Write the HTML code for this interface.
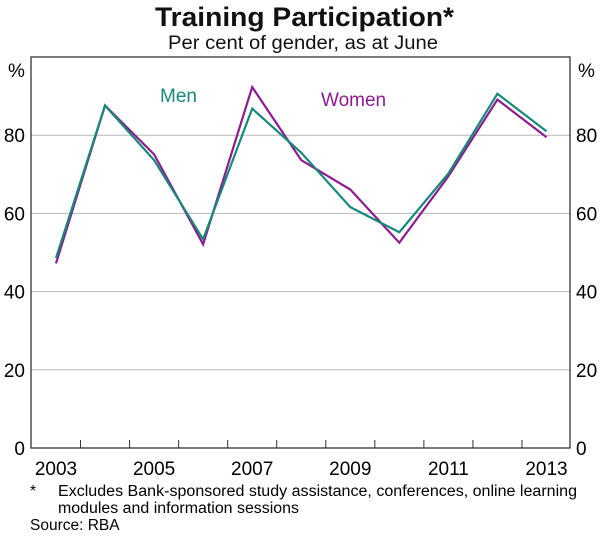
<!DOCTYPE html>
<html><head><meta charset="utf-8"><style>
body{margin:0;background:#fff;font-family:"Liberation Sans",Arial,sans-serif;}
</style></head><body>
<svg width="600" height="533" viewBox="0 0 600 533" xmlns="http://www.w3.org/2000/svg" font-family="Liberation Sans, Arial, sans-serif">
<text x="155" y="26" font-size="27" font-weight="bold" textLength="299" lengthAdjust="spacingAndGlyphs" fill="#111">Training Participation*</text>
<text x="168" y="49" font-size="19" textLength="270" lengthAdjust="spacingAndGlyphs" fill="#111">Per cent of gender, as at June</text>
<g id="grid"></g>
<g id="axes"></g>
<g id="series"></g>
<text x="160" y="102" font-size="19" fill="#16897a">Men</text>
<text x="321" y="106" font-size="19" fill="#8c1d8e">Women</text>
<text x="30" y="496" font-size="15.5">*</text>
<text x="58" y="496" font-size="15.5" textLength="519" lengthAdjust="spacingAndGlyphs">Excludes Bank-sponsored study assistance, conferences, online learning</text>
<text x="58" y="513" font-size="15.5" textLength="241" lengthAdjust="spacingAndGlyphs">modules and information sessions</text>
<text x="30" y="530" font-size="15.5">Source: RBA</text>
</svg>
<script>
const years=[2003,2004,2005,2006,2007,2008,2009,2010,2011,2012,2013];
const men=[48.6,87.6,73.6,53.4,86.8,75.5,61.6,55.2,70.2,90.6,81];
const women=[47.2,87.6,75.1,52.1,92.3,73.6,66.1,52.5,69.5,89.1,79.5];
const yTicks=[0,20,40,60,80];
const xLabels=[2003,2005,2007,2009,2011,2013];
const NS="http://www.w3.org/2000/svg";
const L=31,R=570,T=57,B=448;
const x0=56,step=49.05;
function xs(yr){return x0+(yr-2003)*step;}
function ys(v){return B-(v/100)*(B-T);}
function mk(tag,attrs,parent,text){const e=document.createElementNS(NS,tag);for(const k in attrs)e.setAttribute(k,attrs[k]);if(text!==undefined)e.textContent=text;parent.appendChild(e);return e;}
const grid=document.getElementById('grid'),axes=document.getElementById('axes'),ser=document.getElementById('series');
yTicks.forEach(v=>{
 if(v>0){const g=mk('line',{x1:L,x2:R,y1:ys(v),y2:ys(v),stroke:'#b8b8b8','stroke-width':1},grid);
 
 }
 const t1=mk('text',{x:L-6,y:ys(v)+7,'text-anchor':'end','font-size':19},axes,v);
 
 
 const t2=mk('text',{x:R+6,y:ys(v)+7,'font-size':19},axes,v);
 
 
});
const p1=mk('text',{x:8,y:77,'font-size':19},axes,'%');


const p2=mk('text',{x:578,y:77,'font-size':19},axes,'%');


const fr=mk('rect',{x:L,y:T,width:R-L,height:B-T,fill:'none',stroke:'#333','stroke-width':1.3},axes);


for(let i=0;i<years.length-1;i++){
 const x=(xs(years[i])+xs(years[i+1]))/2;
 const tk=mk('line',{x1:x,x2:x,y1:B,y2:B-8,stroke:'#333','stroke-width':1},axes);
 
 
}
xLabels.forEach(yr=>{
 const t=mk('text',{x:xs(yr),y:475,'text-anchor':'middle','font-size':19},axes,yr);
 
 
});
function line(vals,color,name){
 const d=vals.map((v,i)=>(i?'L':'M')+xs(years[i]).toFixed(1)+' '+ys(v).toFixed(1)).join(' ');
 const p=mk('path',{d:d,fill:'none',stroke:color,'stroke-width':2.2,'stroke-linejoin':'miter'},ser);
 
 
}
line(women,'#8c1d8e','women-line');
line(men,'#16897a','men-line');
</script>
</body></html>
